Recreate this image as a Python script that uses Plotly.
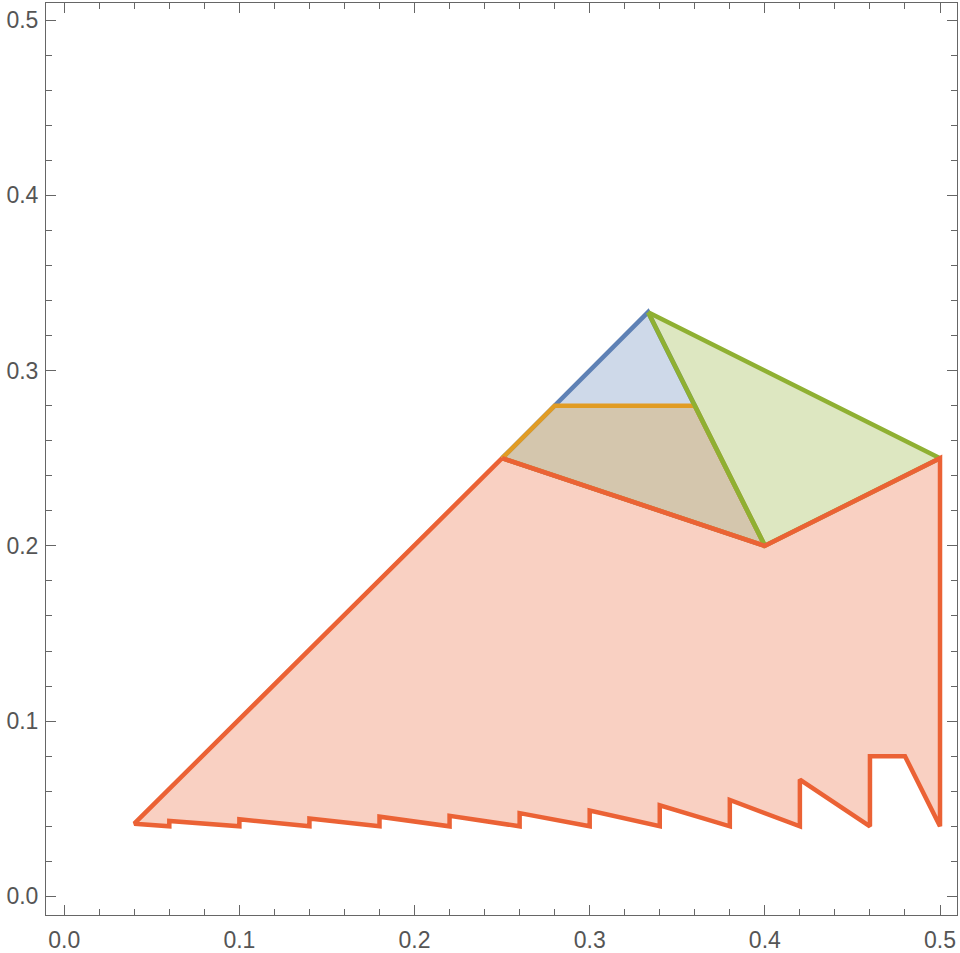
import plotly.graph_objects as go

# region outlines (x, y)
blue_x = [0.25, 1/3, 0.4]
blue_y = [0.25, 1/3, 0.2]

orange_x = [0.25, 0.28, 0.36, 0.4]
orange_y = [0.25, 0.28, 0.28, 0.2]

green_x = [1/3, 0.5, 0.4]
green_y = [1/3, 0.25, 0.2]

red_x = [0.25, 0.04, 0.06, 0.06, 0.10, 0.10, 0.14, 0.14, 0.18, 0.18, 0.22, 0.22,
         0.26, 0.26, 0.30, 0.30, 0.34, 0.34, 0.38, 0.38, 0.42, 0.42, 0.46, 0.46,
         0.48, 0.5, 0.5, 0.4]
red_y = [0.25, 0.0415, 0.04, 0.043, 0.04, 0.044, 0.04, 0.0445, 0.04, 0.0455, 0.04, 0.046,
         0.04, 0.0475, 0.04, 0.049, 0.04, 0.052, 0.04, 0.055, 0.04, 0.0667, 0.04, 0.08,
         0.08, 0.04, 0.25, 0.2]

regions = [
    (blue_x, blue_y, '#5E81B5', 'rgba(94,129,181,0.3)'),
    (orange_x, orange_y, '#E19C24', 'rgba(225,156,36,0.3)'),
    (green_x, green_y, '#8FB032', 'rgba(143,176,50,0.3)'),
    (red_x, red_y, '#EB6235', 'rgba(235,98,53,0.3)'),
]

fig = go.Figure()
for xs, ys, col, fillcol in regions:
    fig.add_trace(go.Scatter(
        x=xs + xs[:1], y=ys + ys[:1],
        mode='lines', fill='toself', fillcolor=fillcol,
        line=dict(color=col, width=4.5),
        hoverinfo='skip', showlegend=False
    ))

axis_style = dict(
    showgrid=False, zeroline=False, automargin=False,
    showline=True, linecolor='#666', linewidth=1, mirror='ticks',
    ticks='inside', ticklen=10, tickcolor='#666', tickwidth=1,
    dtick=0.1, tick0=0, tickformat='.1f',
    minor=dict(dtick=0.02, tick0=0, ticks='inside', ticklen=6, tickcolor='#666', showgrid=False),
    tickfont=dict(family='Liberation Sans', size=23, color='#555'),
)

fig.update_layout(
    width=960, height=953,
    margin=dict(l=46, r=3, t=3, b=38),
    plot_bgcolor='white', paper_bgcolor='white',
    xaxis=dict(range=[-0.0104, 0.5097], ticklabelstandoff=4, **axis_style),
    yaxis=dict(range=[-0.0106, 0.5097], ticklabelstandoff=2, **axis_style),
)

# page body has a default 8px margin; drop it so the figure sits at the window corner
fig.write_html("out.html", config={'displayModeBar': False},
               post_script="document.body.style.margin='0';")
